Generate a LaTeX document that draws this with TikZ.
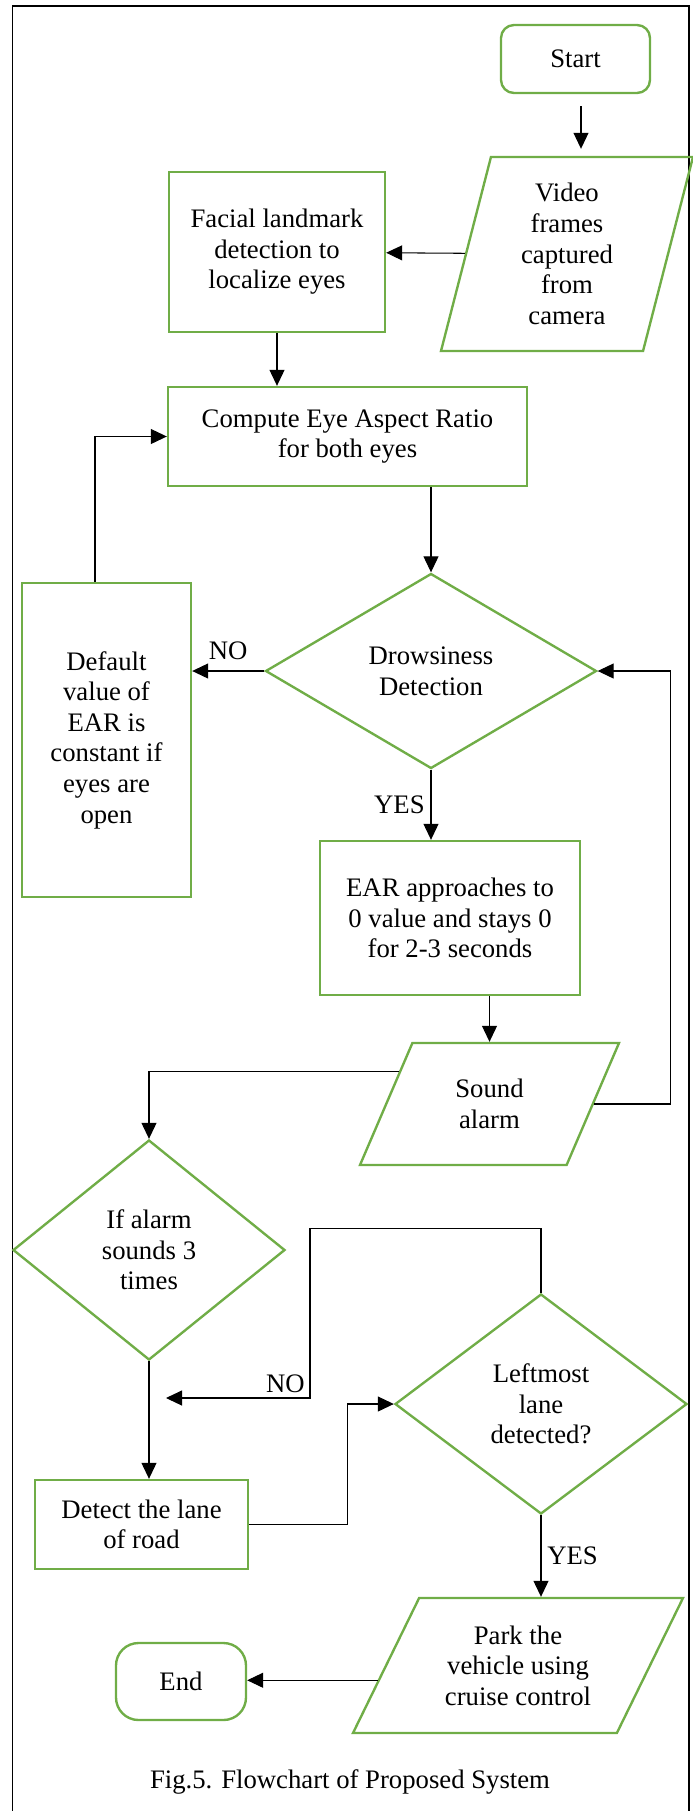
\documentclass[tikz,border=0pt]{standalone}
\usepackage{fontspec}
\setmainfont{Liberation Serif}
\usepackage{tikz}
\usetikzlibrary{positioning}
\usetikzlibrary{arrows.meta}
\usetikzlibrary{shapes.geometric}
\definecolor{flowgreen}{HTML}{70AD47}
\tikzset{
  every node/.style={font=\fontsize{15.2}{17.4}\selectfont},
  process/.style={draw=flowgreen, line width=1.35pt, rectangle, align=center, inner sep=0pt},
  terminal/.style={process, rounded corners=0.26cm},
  io/.style={draw=flowgreen, line width=1.35pt, trapezium, trapezium stretches body,
    align=center, inner sep=0pt},
  decision/.style={draw=flowgreen, line width=1.35pt, diamond, align=center, inner sep=0pt},
  arr/.style={-{Triangle[length=0.32cm,width=0.3cm]}, line width=0.6pt},
}

\begin{document}
\begin{tikzpicture}
        \useasboundingbox (0,0) rectangle (13.86,-36.22);
        \draw[line width=0.85pt] (0.25,-36.22) -- (0.25,-0.12) -- (13.78,-0.12) -- (13.78,-36.22);

        \node[terminal, minimum width=2.98cm, minimum height=1.36cm] (start) at (11.51,-1.18) {Start};
        \node[io, trapezium left angle=70.5, trapezium right angle=109.5,
        minimum width=5.04cm, minimum height=3.88cm] (video) at (11.34,-5.08)
        {Video\\frames\\captured\\from\\camera};
        \node[process, minimum width=4.32cm, minimum height=3.2cm] (facial) at (5.54,-5.04)
        {Facial landmark\\detection to\\localize eyes};
        \node[process, minimum width=7.18cm, minimum height=1.98cm] (compute) at (6.95,-8.73)
        {Compute Eye Aspect Ratio\\for both eyes};
        \node[decision, aspect=1.7, minimum width=6.62cm, minimum height=3.9cm] (drowsy) at (8.62,-13.42)
        {Drowsiness\\Detection};
        \node[process, minimum width=3.38cm, minimum height=6.28cm] (default) at (2.13,-14.8)
        {Default\\value of\\EAR is\\constant if\\eyes are\\open};
        \node[process, minimum width=5.2cm, minimum height=3.08cm] (ear) at (9.0,-18.36)
        {EAR approaches to\\0 value and stays 0\\for 2-3 seconds};
        \node[io, trapezium left angle=43.3, trapezium right angle=136.7,
        minimum width=5.18cm, minimum height=2.44cm] (sound) at (9.79,-22.08)
        {Sound\\alarm};
        \node[decision, aspect=1.24, minimum width=5.44cm, minimum height=4.4cm] (ifalarm) at (2.98,-25.0)
        {If alarm\\sounds 3\\times};
        \node[process, minimum width=4.26cm, minimum height=1.78cm] (lane) at (2.83,-30.49)
        {Detect the lane\\of road};
        \node[decision, aspect=1.33, minimum width=5.84cm, minimum height=4.4cm] (leftmost) at (10.82,-28.08)
        {Leftmost\\lane\\detected?};
        \node[io, trapezium left angle=50.4, trapezium right angle=129.6,
        minimum width=6.6cm, minimum height=2.7cm] (park) at (10.36,-33.31)
        {Park the\\vehicle using\\cruise control};
        \node[terminal, rounded corners=0.45cm, minimum width=2.6cm, minimum height=1.54cm] (endnode) at (3.62,-33.63) {End};
        \node (caption) at (7.0,-35.64) {Fig.5. Flowchart of Proposed System};

        % connectors
        \draw[arr, shorten <=0.24cm, shorten >=0.14cm] ([xshift=0.11cm]start.south) -- ([xshift=0.11cm]start.south |- video.north);
        \draw[arr] (video) -- (facial);
        \draw[arr] (facial.south) -- (facial.south |- compute.north);
        \draw[arr] (compute.south -| drowsy.north) -- (drowsy.north);
        \draw[arr] (drowsy.west) -- (drowsy.west -| default.east)
        node[midway, above=0.1cm] (nolabel) {NO};
        \draw[arr] ([xshift=-0.23cm]default.north) |- (compute.west);
        \draw[arr] (drowsy.south) -- (drowsy.south |- ear.north)
        node[midway, left] (yeslabel) {YES};
        \draw[arr] (ear.south -| sound.north) -- (sound.north);
        \draw[arr] (sound.east) -- ++(1.52,0) |- (drowsy.east);
        \draw[arr] (sound.160) -| (ifalarm.north);
        \draw[arr] (ifalarm.south) -- (ifalarm.south |- lane.north);
        \draw[arr] (lane.east) -- ++(1.96,0) |- (leftmost.west);

        \coordinate (nobend) at (6.2,-27.96);
        \coordinate (noend) at (3.32,-27.96);
        \draw[arr] (leftmost.north) -- ++(0,1.28) -| (nobend) -- (noend);
        \node[above left, inner sep=0.1cm] (nolabel2) at (nobend) {NO};
        \draw[arr] (leftmost.south) -- (leftmost.south |- park.north)
        node[midway, right] (yeslabel2) {YES};
        \draw[arr] (park.186) -- (park.186 -| endnode.east);
\end{tikzpicture}
\end{document}
